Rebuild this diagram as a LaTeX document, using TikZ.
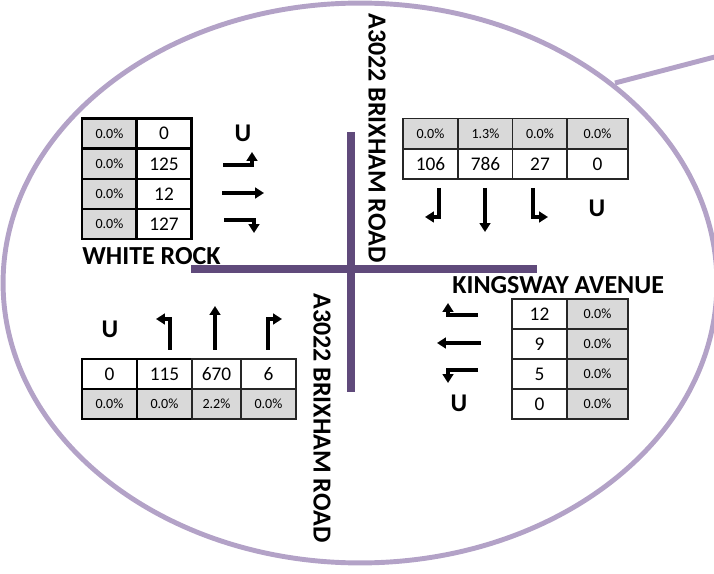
\documentclass[tikz,border=0pt]{standalone}
\usepackage{fontspec}
\setmainfont{Carlito}
\usetikzlibrary{arrows.meta}

\definecolor{lilac}{HTML}{B3A2C7}
\definecolor{roadpurple}{HTML}{604A7B}
\definecolor{cellgrey}{HTML}{D9D9D9}

\tikzset{
  numcell/.style={draw=black!85, line width=0.6pt, fill=white, minimum width=1.1cm, minimum height=0.6cm, inner sep=0pt, font=\fontsize{11}{13}\selectfont},
  pctcell/.style={numcell, fill=cellgrey, font=\fontsize{8}{10}\selectfont},
  widecell/.style={minimum width=1.22cm},
  heavy/.style={draw=black, line width=1.2pt},
  turnarrow/.style={draw=black, line width=1.9pt, -{Triangle[length=5pt,width=6pt]}},
  roadname/.style={font=\bfseries\fontsize{14.8}{16}\selectfont, inner sep=0pt},
  uturn/.style={font=\bfseries\fontsize{14.5}{16}\selectfont, inner sep=0pt}
}

\begin{document}
\begin{tikzpicture}[x=0.02cm, y=-0.02cm]
    \useasboundingbox (0,0) rectangle (714,574);
    % bubble and pointer
    \draw[lilac, line width=2.8pt] (360,283) ellipse [x radius=7.14cm, y radius=5.6cm];
    \draw[lilac, line width=2.8pt] (615,83) -- (730,53);
    % roads
    \draw[roadpurple, line width=4.5pt] (351,132) -- (351,392);
    \draw[roadpurple, line width=4.5pt] (191,269) -- (537,269);
    % road names
    \node[roadname, rotate=-90] (north) at (377,138) {A3022 BRIXHAM ROAD};
    \node[roadname, rotate=-90] (south) at (322,418) {A3022 BRIXHAM ROAD};
    \node[roadname, anchor=west] (west) at (82,256) {WHITE ROCK};
    \node[roadname, anchor=west] (east) at (452,285) {KINGSWAY AVENUE};

    % White Rock
    \node[pctcell, heavy] (w1p) at (109.5,133.5) {0.0\%};
    \node[numcell, heavy] (w1n) at (164,133.5) {0};
    \node[pctcell, heavy] (w2p) at (109.5,164) {0.0\%};
    \node[numcell, heavy] (w2n) at (164,164) {125};
    \node[pctcell, heavy] (w3p) at (109.5,194) {0.0\%};
    \node[numcell, heavy] (w3n) at (164,194) {12};
    \node[pctcell, heavy] (w4p) at (109.5,224) {0.0\%};
    \node[numcell, heavy] (w4n) at (164,224) {127};
    \node[uturn] (wu) at (243,133) {U};
    \draw[turnarrow] (223,165) -- (252,165) -- (252,152);
    \draw[turnarrow] (222,193) -- (264,193);
    \draw[turnarrow] (224,220) -- (254,220) -- (254,233);

    % Brixham Road north
    \node[pctcell] (n1p) at (430.5,133.5) {0.0\%};
    \node[pctcell] (n2p) at (485.5,133.5) {1.3\%};
    \node[pctcell] (n3p) at (540,133.5) {0.0\%};
    \node[pctcell, widecell] (n4p) at (597.5,133.5) {0.0\%};
    \node[numcell] (n1n) at (430.5,164) {106};
    \node[numcell] (n2n) at (485.5,164) {786};
    \node[numcell] (n3n) at (540,164) {27};
    \node[numcell, widecell] (n4n) at (597.5,164) {0};
    \draw[turnarrow] (439,188) -- (439,217) -- (425,217);
    \draw[turnarrow] (485,188) -- (485,232);
    \draw[turnarrow] (533,188) -- (533,217) -- (548,217);
    \node[uturn] (nu) at (597,208) {U};

    % Brixham Road south
    \node[numcell, heavy] (s1n) at (109.5,374) {0};
    \node[numcell, heavy] (s2n) at (164.5,374) {115};
    \node[numcell, minimum width=0.98cm] (s3n) at (216.5,374) {670};
    \node[numcell] (s4n) at (268.5,374) {6};
    \node[pctcell, heavy] (s1p) at (109.5,404) {0.0\%};
    \node[pctcell, heavy] (s2p) at (164.5,404) {0.0\%};
    \node[pctcell, minimum width=0.98cm] (s3p) at (216.5,404) {2.2\%};
    \node[pctcell] (s4p) at (268.5,404) {0.0\%};
    \node[uturn] (su) at (110,329) {U};
    \draw[turnarrow] (170,350) -- (170,319) -- (156,319);
    \draw[turnarrow] (215,350) -- (215,306);
    \draw[turnarrow] (268,350) -- (268,319) -- (282,319);

    % Kingsway Avenue
    \node[numcell] (e1n) at (539.5,314) {12};
    \node[pctcell, widecell] (e1p) at (597.5,314) {0.0\%};
    \node[numcell] (e2n) at (539.5,344) {9};
    \node[pctcell, widecell] (e2p) at (597.5,344) {0.0\%};
    \node[numcell] (e3n) at (539.5,374) {5};
    \node[pctcell, widecell] (e3p) at (597.5,374) {0.0\%};
    \node[numcell] (e4n) at (539.5,404) {0};
    \node[pctcell, widecell] (e4p) at (597.5,404) {0.0\%};
    \draw[turnarrow] (478,315) -- (448,315) -- (448,303);
    \draw[turnarrow] (481,343) -- (437,343);
    \draw[turnarrow] (478,370) -- (448,370) -- (448,383);
    \node[uturn] (eu) at (459,403) {U};
\end{tikzpicture}
\end{document}
